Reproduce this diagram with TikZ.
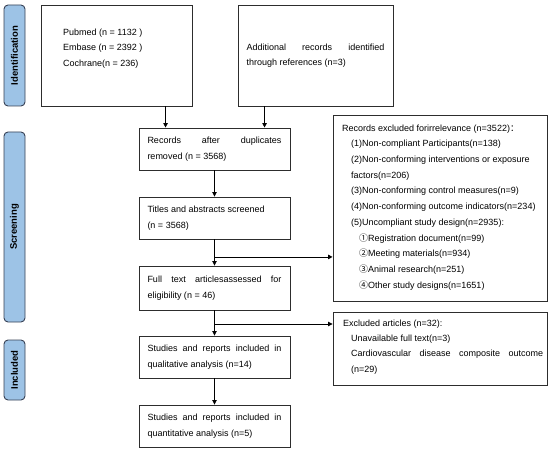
\documentclass[tikz,border=0pt]{standalone}
\usepackage{fontspec}
\setmainfont{Liberation Sans}
\newfontfamily\cjk{Noto Sans CJK SC}
\usetikzlibrary{arrows.meta,calc}
\definecolor{labfill}{RGB}{157,195,230}
\definecolor{labdraw}{RGB}{55,65,85}
\definecolor{boxdraw}{RGB}{45,45,45}
\begin{document}
\begin{tikzpicture}[x=1pt,y=-1pt,
  txt/.style={font=\fontsize{9}{15.5}\selectfont},
  box/.style={draw=boxdraw, line width=0.9pt, txt, align=justify, inner xsep=8.5pt, inner ysep=0pt,
    execute at begin node={\spaceskip=0.278em plus 1em\relax\hyphenpenalty=10000\relax}},
  plain/.style={draw=boxdraw, line width=0.9pt, inner sep=0pt},
  boxtext/.style={anchor=base west, inner sep=0pt},
  lab/.style={draw=labdraw, fill=labfill, line width=0.9pt, rounded corners=4pt, rotate=90,
    minimum height=21pt, inner sep=0pt, font=\fontsize{9.5}{11}\selectfont\bfseries},
  arr/.style={-{Triangle[width=4.5pt,length=4.5pt]}, line width=0.8pt, black}]
\useasboundingbox (0,0) rectangle (550,452);

% side labels
\node[lab, minimum width=101pt] (idl) at (14.5,55.5) {Identification};
\node[lab, minimum width=190pt] (scl) at (14.5,227) {Screening};
\node[lab, minimum width=60pt] (inl) at (14.5,370) {Included};

% identification boxes
\node[plain, minimum width=151pt, minimum height=101pt] (b1) at (116.5,55.5) {};
\node[boxtext, font=\fontsize{9}{15.7}\selectfont] (b1t) at (63,35.2)
  {\parbox[t]{125pt}{\raggedright Pubmed (n = 1132 )\\Embase (n = 2392 )\\Cochrane(n = 236)}};
\node[box, text width=138pt, minimum width=155pt, minimum height=101pt] (b2) at (315.5,55.5)
  {Additional records identified through references (n=3)};

% main column
\node[box, text width=134pt, minimum height=42pt] (b3) at (214.5,149)
  {Records after duplicates removed (n = 3568)};
\node[box, text width=134pt, minimum height=42pt] (b4) at (214.5,218)
  {Titles and abstracts screened\\(n = 3568)};
\node[box, text width=134pt, minimum height=44pt] (b5) at (214.5,288)
  {Full text articlesassessed for eligibility (n = 46)};
\node[box, text width=134pt, minimum height=42pt] (b6) at (214.5,357)
  {Studies and reports included in qualitative analysis (n=14)};
\node[box, text width=134pt, minimum height=42pt] (b7) at (214.5,426)
  {Studies and reports included in quantitative analysis (n=5)};

% exclusion boxes
\node[plain, minimum width=214pt, minimum height=186pt] (ex1) at (440,208) {};
\node[boxtext, font=\fontsize{9}{15.7}\selectfont] (ex1t) at (342,131.2)
  {\parbox[t]{202pt}{\raggedright
   Records excluded forirrelevance (n=3522){\cjk ：}\\
   \hspace*{9pt}(1)Non-compliant Participants(n=138)\\
   \hspace*{9pt}(2)Non-conforming interventions or exposure\\
   \hspace*{9pt}factors(n=206)\\
   \hspace*{9pt}(3)Non-conforming control measures(n=9)\\
   \hspace*{9pt}(4)Non-conforming outcome indicators(n=234)\\
   \hspace*{9pt}(5)Uncompliant study design(n=2935):\\
   \hspace*{17pt}{\cjk ①}Registration document(n=99)\\
   \hspace*{17pt}{\cjk ②}Meeting materials(n=934)\\
   \hspace*{17pt}{\cjk ③}Animal research(n=251)\\
   \hspace*{17pt}{\cjk ④}Other study designs(n=1651)}};

\node[plain, minimum width=214pt, minimum height=73pt] (ex2) at (440,348.5) {};
\node[boxtext, font=\fontsize{9}{15.3}\selectfont] (ex2t) at (343,326.2)
  {\parbox[t]{200pt}{\hyphenpenalty=10000 Excluded articles (n=32):\par
   \hspace*{8pt}Unavailable full text(n=3)\par
   {\leftskip=8pt Cardiovascular disease composite outcome (n=29)\par}}};

% connectors
\coordinate (t1) at ($(b3.north west)+(27,0)$);
\coordinate (t2) at ($(b3.north west)+(126,0)$);
\draw[arr] (t1 |- b1.south) -- (t1);
\draw[arr] (t2 |- b2.south) -- (t2);
\draw[arr] (b3.south) -- (b4.north);
\draw[arr] (b4.south) -- (b5.north);
\coordinate (j1) at ($(b4.south)!0.67!(b5.north)$);
\draw[arr] (j1) -- (j1 -| ex1.west);
\draw[arr] (b5.south) -- (b6.north);
\coordinate (j2) at ($(b5.south)!0.54!(b6.north)$);
\draw[arr] (j2) -- (j2 -| ex2.west);
\draw[arr] (b6.south) -- (b7.north);
\end{tikzpicture}
\end{document}
